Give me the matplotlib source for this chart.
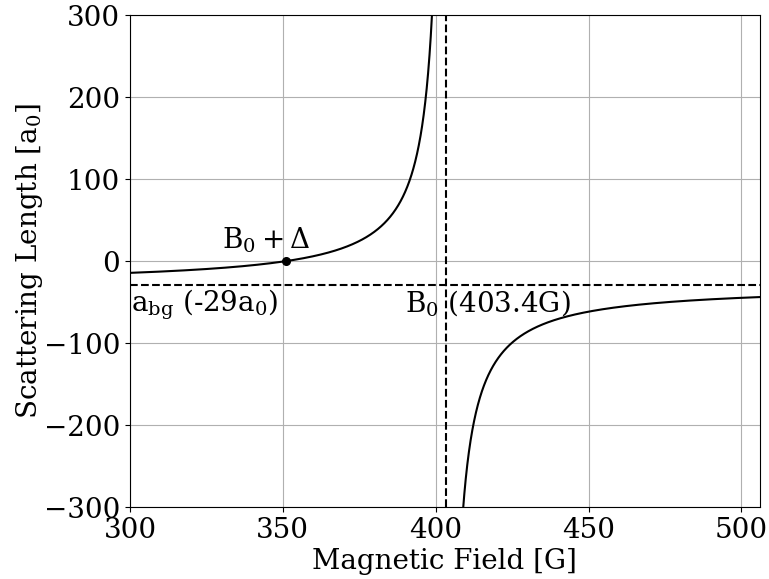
import matplotlib.pyplot as plt
import numpy as np

plt.rcParams['font.family'] = 'DejaVu Serif'
plt.rcParams['mathtext.fontset'] = 'dejavuserif'
plt.rcParams['font.size'] = 20

# resonance parameters
a_bg = -29.0        # background scattering length [a0]
B0 = 403.4          # resonance position [G]
B_zero = 351.0      # zero crossing B0 + Delta [G]
delta = B_zero - B0

B = np.linspace(300, 506, 4000)
a = a_bg * (1 - delta / (B - B0))
a[np.abs(a) > 400] = np.nan

fig = plt.figure(figsize=(7.69, 5.79), dpi=100)
ax = fig.add_axes([0.169, 0.124, 0.819, 0.85])

ax.plot(B, a, 'k-', lw=1.5)
ax.axhline(a_bg, color='k', ls='--', lw=1.5)
ax.axvline(B0, color='k', ls='--', lw=1.5)
ax.plot([B_zero], [0], 'ko', ms=5.5)

ax.text(330, 8, r'$\mathrm{B_0 + \Delta}$', va='bottom', ha='left')
ax.text(300.5, -33, r'$\mathrm{a_{bg}}$ (-29a$_0$)', va='top', ha='left')
ax.text(390, -33, r'$\mathrm{B_0}$ (403.4G)', va='top', ha='left')

ax.set_xlim(300, 506)
ax.set_ylim(-300, 300)
ax.set_xticks([300, 350, 400, 450, 500])
ax.set_yticks([-300, -200, -100, 0, 100, 200, 300])
ax.grid(True)
ax.set_axisbelow(True)
ax.set_xlabel('Magnetic Field [G]', labelpad=3)
ax.set_ylabel('Scattering Length [a$_0$]', labelpad=-1)

plt.savefig('out.png')
